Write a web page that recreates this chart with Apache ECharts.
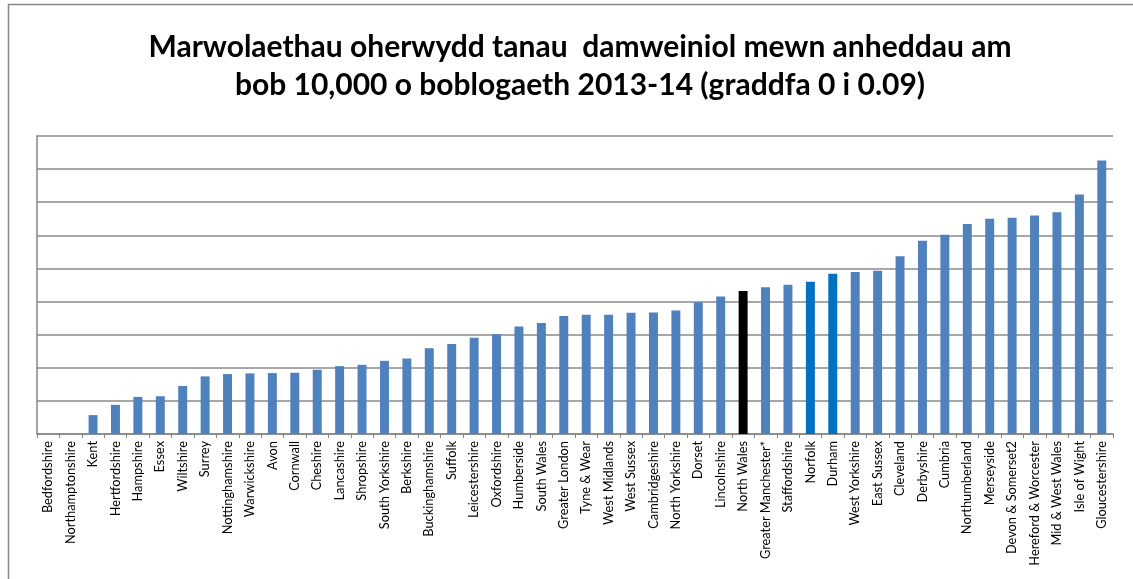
<!DOCTYPE html>
<html lang="cy">
<head>
<meta charset="utf-8">
<title>Marwolaethau oherwydd tanau damweiniol</title>
<style>
  html, body { margin: 0; padding: 0; background: #fff; }
  #main { width: 1133px; height: 579px; }
</style>
</head>
<body>
<div id="main"></div>
<script src="https://cdn.jsdelivr.net/npm/echarts@6/dist/echarts.min.js"></script>
<script>
// categories (awdurdodau tân)
var categories = ['Bedfordshire', 'Northamptonshire', 'Kent', 'Hertfordshire', 'Hampshire', 'Essex',
    'Wiltshire', 'Surrey', 'Nottinghamshire', 'Warwickshire', 'Avon', 'Cornwall', 'Cheshire',
    'Lancashire', 'Shropshire', 'South Yorkshire', 'Berkshire', 'Buckinghamshire', 'Suffolk',
    'Leicestershire', 'Oxfordshire', 'Humberside', 'South Wales', 'Greater London', 'Tyne & Wear',
    'West Midlands', 'West Sussex', 'Cambridgeshire', 'North Yorkshire', 'Dorset', 'Lincolnshire',
    'North Wales', 'Greater Manchester*', 'Staffordshire', 'Norfolk', 'Durham', 'West Yorkshire',
    'East Sussex', 'Cleveland', 'Derbyshire', 'Cumbria', 'Northumberland', 'Merseyside',
    'Devon & Somerset2', 'Hereford & Worcester', 'Mid & West Wales', 'Isle of Wight', 'Gloucestershire'];

// deaths per 10,000 population
var values = [0, 0, 0.0057, 0.0088, 0.0112, 0.0114, 0.0145, 0.0174, 0.0181, 0.0183, 0.0184, 0.0185,
    0.0194, 0.0205, 0.0209, 0.0221, 0.0228, 0.0259, 0.0272, 0.0291, 0.0301, 0.0325, 0.0335, 0.0356,
    0.0360, 0.0360, 0.0366, 0.0367, 0.0373, 0.0398, 0.0415, 0.0432, 0.0443, 0.0451, 0.0460, 0.0484,
    0.0489, 0.0493, 0.0537, 0.0584, 0.0602, 0.0634, 0.0650, 0.0653, 0.0660, 0.0670, 0.0723, 0.0826];

var highlightBlack = ['North Wales'];
var highlightBlue = ['Norfolk', 'Durham'];

var yMin = 0, yMax = 0.09, yStep = 0.01;

var chart = echarts.init(document.getElementById('main'));

var barData = values.map(function (v, i) {
    var name = categories[i];
    var color = '#4F81BD';
    if (highlightBlack.indexOf(name) >= 0) color = '#000000';
    else if (highlightBlue.indexOf(name) >= 0) color = '#0070C0';
    return { value: v, itemStyle: { color: color } };
});

var option = {
    animation: false,
    backgroundColor: '#ffffff',
    title: {
        text: 'Marwolaethau oherwydd tanau  damweiniol mewn anheddau am\nbob 10,000 o boblogaeth 2013-14 (graddfa 0 i 0.09)',
        left: 575,
        top: 23,
        textAlign: 'center',
        textStyle: {
            fontFamily: 'Lato',
            fontWeight: 'bold',
            fontSize: 30,
            lineHeight: 38,
            color: '#000'
        }
    },
    graphic: [{
        type: 'rect',
        shape: { x: 8.5, y: 4.5, width: 1200, height: 700 },
        style: { fill: 'none', stroke: '#888888', lineWidth: 1.5 },
        silent: true
    }],
    grid: { left: 37, right: 20, top: 136, bottom: 145 },
    xAxis: {
        type: 'category',
        data: categories,
        axisLine: { lineStyle: { color: '#868686', width: 1.5 } },
        axisTick: { show: true, length: 4, lineStyle: { color: '#868686' } },
        axisLabel: {
            interval: 0,
            rotate: 90,
            fontFamily: 'Lato',
            fontSize: 12.8,
            color: '#000',
            margin: 7
        }
    },
    yAxis: {
        type: 'value',
        min: yMin,
        max: yMax,
        interval: yStep,
        axisLabel: { show: false },
        axisLine: { show: true, lineStyle: { color: '#868686', width: 1.5 } },
        axisTick: { show: false },
        splitLine: { lineStyle: { color: '#8a8a8a', width: 1.5 } }
    },
    series: [{
        type: 'bar',
        data: barData,
        barWidth: '40%'
    }]
};

chart.setOption(option);
</script>
</body>
</html>
